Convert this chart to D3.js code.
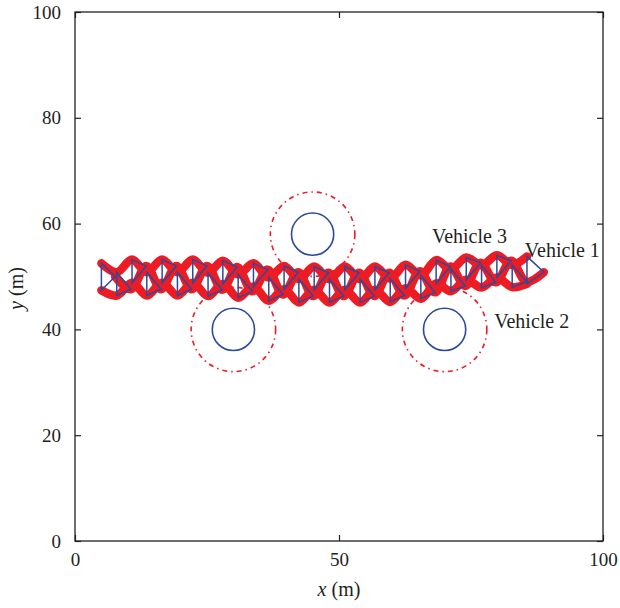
<!DOCTYPE html>
<html>
<head>
<meta charset="utf-8">
<script src="https://cdn.jsdelivr.net/npm/d3@7"></script>
<style>
  body { margin: 0; background: #fff; }
  svg text { font-family: "Liberation Serif", "DejaVu Serif", serif; fill: #231f20; }
</style>
</head>
<body>
<div id="chart"></div>
<script>
// tick labels
var xTicks = [0, 50, 100];
var yTicks = [0, 20, 40, 60, 80, 100];

// obstacles (centre, radius) and their safety circles
var obsX = [30, 45, 70];
var obsY = [40, 58, 40];
var obsR = [4, 4, 4];
var safeR = [8, 8, 8];

// vehicle positions at each formation step
// vehicle 1 leads, vehicle 3 on top, vehicle 2 below
var v1x = [7.6, 10.6, 13.5, 16.3, 19.2, 22.1, 25.0, 27.9, 30.7, 33.6, 36.5, 39.4, 42.3, 45.1, 48.0, 50.9, 53.8, 56.7, 59.5, 62.4, 65.3, 68.2, 71.1, 73.9, 76.8, 79.7, 82.6, 85.5, 88.8];
var v1y = [50.0, 47.6, 52.0, 47.6, 52.0, 47.6, 52.0, 47.5, 51.8, 47.2, 51.3, 46.6, 50.8, 46.3, 50.7, 46.3, 50.7, 46.3, 50.7, 46.4, 51.0, 47.0, 51.9, 48.2, 52.6, 48.9, 53.0, 49.0, 50.8];
var v2x = [5.0, 7.9, 10.8, 13.6, 16.5, 19.4, 22.3, 25.2, 28.0, 30.9, 33.8, 36.7, 39.6, 42.4, 45.3, 48.2, 51.1, 54.0, 56.8, 59.7, 62.6, 65.5, 68.4, 71.2, 74.1, 77.0, 79.9, 82.8, 85.6];
var v2y = [47.4, 46.4, 48.8, 46.4, 48.8, 46.4, 48.8, 46.3, 48.6, 46.0, 48.1, 45.4, 47.6, 45.1, 47.5, 45.1, 47.5, 45.1, 47.5, 45.2, 47.8, 45.8, 48.7, 47.2, 49.4, 47.9, 49.8, 48.0, 48.6];
var v3x = [5.0, 7.9, 10.8, 13.6, 16.5, 19.4, 22.3, 25.2, 28.0, 30.9, 33.8, 36.7, 39.6, 42.4, 45.3, 48.2, 51.1, 54.0, 56.8, 59.7, 62.6, 65.5, 68.4, 71.2, 74.1, 77.0, 79.9, 82.8, 85.6];
var v3y = [52.5, 50.8, 53.2, 50.8, 53.2, 50.8, 53.2, 50.7, 53.0, 50.4, 52.5, 49.8, 52.0, 49.5, 51.9, 49.5, 51.9, 49.5, 51.9, 49.6, 52.2, 50.2, 53.1, 51.4, 53.6, 52.1, 54.0, 52.2, 53.8];

// text labels
var labelText = ["Vehicle 3", "Vehicle 1", "Vehicle 2"];
var labelX = [67.6, 85.2, 79.4];
var labelY = [56.4, 53.6, 40.3];

var margin = {top: 12, right: 17, bottom: 67, left: 75},
    width = 620 - margin.left - margin.right,
    height = 608 - margin.top - margin.bottom;

var svg = d3.select("#chart")
  .append("svg")
    .attr("width", 620)
    .attr("height", 608)
  .append("g")
    .attr("transform", "translate(" + margin.left + "," + margin.top + ")");

var x = d3.scaleLinear().domain([0, 100]).range([0, width]);
var y = d3.scaleLinear().domain([0, 100]).range([height, 0]);

var red = "#ed1c24", blue = "#2b4a9c";

// clip to plot box
svg.append("clipPath").attr("id", "clip")
  .append("rect").attr("width", width).attr("height", height);
var plot = svg.append("g").attr("clip-path", "url(#clip)");

// safety circles, dash-dot
plot.selectAll(".safe")
  .data(obsX)
  .enter()
  .append("circle")
    .attr("cx", function(d) { return x(d); })
    .attr("cy", function(d, i) { return y(obsY[i]); })
    .attr("r", function(d, i) { return x(safeR[i]) - x(0); })
    .attr("fill", "none")
    .attr("stroke", red)
    .attr("stroke-width", 1.6)
    .attr("stroke-dasharray", "5,4,1.5,4");

// obstacles
plot.selectAll(".obs")
  .data(obsX)
  .enter()
  .append("circle")
    .attr("cx", function(d) { return x(d); })
    .attr("cy", function(d, i) { return y(obsY[i]); })
    .attr("r", function(d, i) { return x(obsR[i]) - x(0); })
    .attr("fill", "none")
    .attr("stroke", blue)
    .attr("stroke-width", 1.6);

// red trails
var trails = [[v1x, v1y], [v2x, v2y], [v3x, v3y]];
var line = d3.line()
  .x(function(d) { return x(d[0]); })
  .y(function(d) { return y(d[1]); })
  .curve(d3.curveCatmullRom.alpha(0.5));

plot.selectAll(".trail")
  .data(trails)
  .enter()
  .append("path")
    .attr("d", function(t) { return line(d3.zip(t[0], t[1])); })
    .attr("fill", "none")
    .attr("stroke", red)
    .attr("stroke-width", 8.5)
    .attr("stroke-linecap", "round")
    .attr("stroke-linejoin", "round");

// formation triangles
plot.selectAll(".tri")
  .data(v1x)
  .enter()
  .append("path")
    .attr("d", function(d, i) {
      return "M" + x(v3x[i]) + "," + y(v3y[i]) +
             "L" + x(v1x[i]) + "," + y(v1y[i]) +
             "L" + x(v2x[i]) + "," + y(v2y[i]) + "Z";
    })
    .attr("fill", "none")
    .attr("stroke", blue)
    .attr("stroke-width", 1.5);

// labels
svg.selectAll(".lab")
  .data(labelText)
  .enter()
  .append("text")
    .attr("x", function(d, i) { return x(labelX[i]); })
    .attr("y", function(d, i) { return y(labelY[i]); })
    .style("font-size", "20px")
    .text(function(d) { return d; });

// box and inward ticks
var axisColor = "#231f20";
svg.append("rect")
  .attr("width", width).attr("height", height)
  .attr("fill", "none").attr("stroke", axisColor).attr("stroke-width", 1.3);

function styleAxis(g) {
  g.select(".domain").remove();
  g.selectAll(".tick line").attr("stroke", axisColor).attr("stroke-width", 1.2);
  g.selectAll(".tick text").attr("fill", axisColor).style("font-size", "19px")
    .style("font-family", "Liberation Serif, serif");
}

svg.append("g")
  .attr("transform", "translate(0," + height + ")")
  .call(d3.axisBottom(x).tickValues(xTicks).tickSize(-6).tickPadding(12))
  .call(styleAxis);
svg.append("g")
  .call(d3.axisTop(x).tickValues(xTicks).tickSize(-6).tickFormat(""))
  .call(styleAxis);
svg.append("g")
  .call(d3.axisLeft(y).tickValues(yTicks).tickSize(-6).tickPadding(14))
  .call(styleAxis);
svg.append("g")
  .attr("transform", "translate(" + width + ",0)")
  .call(d3.axisRight(y).tickValues(yTicks).tickSize(-6).tickFormat(""))
  .call(styleAxis);

// axis titles
var xt = svg.append("text")
  .attr("x", width / 2)
  .attr("y", height + 55)
  .attr("text-anchor", "middle")
  .style("font-size", "20px");
xt.append("tspan").style("font-style", "italic").text("x");
xt.append("tspan").text(" (m)");

var yt = svg.append("text")
  .attr("transform", "translate(-52," + (height / 2 + 12) + ")rotate(-90)")
  .attr("text-anchor", "middle")
  .style("font-size", "20px");
yt.append("tspan").style("font-style", "italic").text("y");
yt.append("tspan").text(" (m)");
</script>
</body>
</html>
